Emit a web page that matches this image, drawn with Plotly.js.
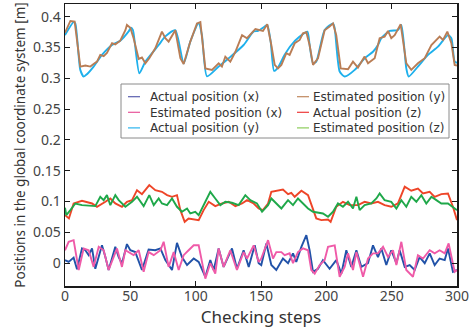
<!DOCTYPE html>
<html>
<head>
<meta charset="utf-8">
<script src="https://cdn.plot.ly/plotly-3.0.1.min.js"></script>
<style>html,body{margin:0;padding:0;background:#fff;}#chart{width:473px;height:328px;}</style>
</head>
<body>
<div id="chart"></div>
<script>
// ---- data ----
const seriesNames = ["Actual position (x)", "Estimated position (x)", "Actual position (y)",
                     "Estimated position (y)", "Actual position (z)", "Estimated position (z)"];
const xTicks = [0, 50, 100, 150, 200, 250, 300];

const stepsActualX = [0,2.8,6.6,9.2,13,15.6,18.1,20.7,23.2,28.3,30.9,33.4,38.5,41.1,43.6,47.4,50,53.8,58.9,64,69.1,73,76.8,81.9,85.7,89.5,93.4,98.5,102.3,107.4,111.2,113.8,117.6,121.4,127.8,131.6,136.7,140.6,145.2,148.2,150.2,154.1,157.9,161.7,166.8,170.7,174.5,177,180.9,184.7,187.2,189.8,193.6,197.4,202.5,207.6,211.5,215.3,219.1,223,226.8,231.9,235.7,239.5,242.1,245.9,249.7,253.6,256.1,260,263.8,267.6,271.4,275.3,279.1,282.9,286.7,290.6,293.1,296.9,300];
const actualX = [0.005,0.002,0.009,-0.01,0.024,0.021,0.013,0.024,-0.009,0.029,0.010,-0.011,0.0266,0.010,-0.0005,0.031,0.021,0.018,-0.011,0.022,0.021,0.024,0.005,-0.011,0.033,0.010,-0.003,0.0077,0.002,-0.022,0.005,-0.011,0.024,-0.006,0.024,-0.009,0.021,-0.006,0.029,0,-0.003,0.032,-0.003,-0.011,0.0076,0,0.016,0.002,0.0266,0.0455,0.021,-0.014,-0.009,0.005,-0.009,0.005,-0.017,0.021,-0.006,0.021,-0.006,0,0.029,0.010,0.024,-0.003,0.021,0,0.021,-0.006,-0.003,-0.011,0.010,0,0.016,-0.003,0.0076,0.005,0.024,-0.014,-0.011];

const stepsEstX = [0,2.8,6.6,9.2,10.5,14.3,18.1,21.9,25.8,29.6,33.4,39.8,43.6,46.2,48.7,52.5,56.4,60.2,64,67.9,73,75.5,79.3,83.2,87,90.8,94.6,98.5,102.3,104.8,107.4,111.2,115,117.6,121.4,126.5,131.6,136.7,139.3,144.4,148.2,150.2,155.4,159.2,161.7,165.6,168.1,171.9,174.5,178.3,182.1,186,188.5,191.1,194.9,198.7,201.3,206.4,210.2,214,216.6,220.4,223,228.1,231.9,235.7,239.5,243.4,247.2,251,253.6,257.4,261.2,266.3,270.1,274,279.1,282.9,286.7,290.6,293.6,298.2,300];
const estX = [0.021,0.0347,0.0374,0,-0.011,0.024,0.021,-0.006,0.0266,0.021,-0.011,0.024,-0.006,0.021,0.018,0.013,0.021,-0.014,0.018,0.013,0.021,0.0347,-0.006,0.018,-0.011,0.013,0.021,0.029,0.029,0.002,-0.025,0,-0.017,0.024,-0.006,0.021,-0.011,0.018,0.0076,0.029,0.002,0.0076,0.0374,0.0076,0.018,0.018,0.013,0.016,0,0.018,0.024,0.021,-0.011,-0.017,-0.003,0.005,0.0266,0.029,-0.022,-0.006,0.016,-0.011,0.018,-0.022,0.0076,0.016,0.016,0.0266,0.010,0.021,-0.003,0.0347,-0.011,-0.022,0.013,0.0076,0.021,0.016,0.021,0.016,0.032,-0.014,-0.011];

const stepsActualY = [0,6.6,7.9,11.7,14.3,16.8,21.9,28.3,36,42.3,48.7,50.5,52,56.9,61.5,71.7,76.8,84.4,90.8,95.9,102.3,104.8,108.7,117.6,125.3,136.7,144.4,147.7,152.8,154.8,157.4,160,163,168.1,173.2,179.6,185.5,187.2,189.8,192.3,198.7,205.1,206.4,210.2,214,221.7,229.3,235.7,239.5,242.1,248.5,254.8,257.4,261.2,263,270.1,277.8,285.5,293.1,295.7,298.2,300];
const actualY = [0.370,0.391,0.389,0.3136,0.3028,0.3066,0.319,0.338,0.354,0.361,0.376,0.382,0.378,0.308,0.327,0.354,0.368,0.378,0.324,0.3595,0.389,0.370,0.303,0.319,0.3325,0.354,0.376,0.3768,0.384,0.3865,0.3595,0.312,0.3174,0.338,0.354,0.3676,0.3757,0.354,0.3244,0.327,0.3784,0.389,0.381,0.311,0.3028,0.3136,0.3325,0.343,0.354,0.365,0.3768,0.3784,0.3865,0.316,0.3028,0.319,0.338,0.3514,0.370,0.365,0.327,0.325];

const stepsEstY = [0,4.1,7.4,11.7,15.6,19.4,21.9,24.5,27.0,29.6,32.1,36,38.5,42.3,46.2,47.4,50,52.5,56.4,58.9,61.5,64.5,69.1,74.2,76.8,79.3,84.4,88.3,90.8,95.9,101,103.6,107.4,112.5,117.6,120.1,122.7,126.5,130.4,135.5,139.3,145.7,151.5,154.8,157.9,160.5,163,165.6,169.4,171.9,175.8,179.6,182.1,184.7,187.2,189.8,193.6,198.7,202.5,205.1,207.6,211,216.6,220.4,224.2,229.3,231.9,237,240.8,244.6,247.2,249.7,252.3,256.9,261.2,265,270.1,275.3,280.4,284.2,286.7,289.3,292.6,295.7,298.2,300];
const estY = [0.374,0.393,0.392,0.319,0.3206,0.319,0.323,0.327,0.338,0.336,0.341,0.357,0.355,0.361,0.378,0.3865,0.382,0.365,0.3314,0.3336,0.3244,0.3325,0.3487,0.3757,0.365,0.3595,0.378,0.3325,0.323,0.3595,0.389,0.391,0.316,0.3136,0.3244,0.319,0.335,0.327,0.343,0.370,0.365,0.380,0.3768,0.3876,0.354,0.3217,0.316,0.3217,0.3406,0.338,0.3568,0.3622,0.373,0.3746,0.354,0.3217,0.3325,0.378,0.3838,0.389,0.370,0.316,0.3147,0.327,0.3174,0.3352,0.3244,0.3325,0.365,0.3676,0.3768,0.365,0.370,0.3876,0.3244,0.3136,0.3244,0.3325,0.354,0.3622,0.3676,0.3622,0.3757,0.357,0.3217,0.3206];

const stepsActualZ = [0,3,6.6,13,20.7,24.5,30.9,34.7,38.5,43.6,47.4,51.3,55.1,58.9,64.5,69.1,74.2,78.1,81.9,85.7,88.3,91.6,94.6,98.5,102.3,106.1,110,115,120.1,125.3,130.4,135.5,139.3,144.4,148.2,151.5,155.4,157.9,161.7,166.8,170.7,173.2,175.8,180.9,186,189.8,192.3,196.2,201.3,203.3,207.6,212.7,217.9,224.2,229.3,234.4,239.5,244.6,249.7,254.8,260,265,270.1,274,279.1,282.9,288,293.1,296.9,300];
const actualZ = [0.078,0.0726,0.0969,0.1012,0.0969,0.0915,0.0996,0.105,0.0969,0.0915,0.0996,0.1023,0.1185,0.112,0.1267,0.1185,0.1158,0.1104,0.1077,0.1104,0.0861,0.0671,0.0726,0.0709,0.0699,0.0861,0.0996,0.0926,0.0969,0.0996,0.0926,0.0969,0.1023,0.0969,0.0888,0.0861,0.0969,0.1158,0.1175,0.1196,0.112,0.1142,0.1077,0.1175,0.1104,0.0861,0.0726,0.0699,0.0709,0.0671,0.0915,0.0996,0.0942,0.0942,0.0996,0.0969,0.0996,0.0942,0.0915,0.0969,0.124,0.1175,0.1212,0.1131,0.1158,0.1077,0.112,0.1131,0.0915,0.0699];

const stepsEstZ = [0,1,4.1,7.9,13,23.2,27,29.6,32.1,34.7,38.5,41.1,46.2,51.3,55.1,60.2,64.5,67.9,71.7,74.2,78.1,81.9,85.7,89.5,93.4,95.9,99.7,102.3,107.4,111.2,115,118.9,122.7,127.8,132.9,138,141.8,146.9,150.8,155.4,157.9,161.7,165.6,170.7,174.5,178.3,182.1,186,189.8,193.6,197.4,201.3,205.1,208.9,212.7,216.6,220.4,223,225.5,229.3,234.4,238.3,240.8,244.6,249.7,253.6,257.4,261.2,265,268.9,272.7,276.5,280.4,284.2,288,293.1,296.9,300];
const estZ = [0.09,0.078,0.086,0.0969,0.0942,0.0926,0.1077,0.1023,0.1104,0.0942,0.1104,0.1023,0.0915,0.0996,0.1077,0.0926,0.1104,0.0942,0.105,0.0969,0.0942,0.105,0.0915,0.0834,0.0888,0.0807,0.0834,0.078,0.0996,0.1158,0.105,0.0942,0.0996,0.098,0.0942,0.1104,0.1023,0.0969,0.0834,0.0942,0.105,0.0969,0.0888,0.1023,0.0942,0.105,0.0969,0.0888,0.0834,0.0818,0.0807,0.0753,0.0834,0.0969,0.0915,0.0996,0.0888,0.1077,0.0861,0.0942,0.0969,0.105,0.1131,0.1023,0.0996,0.0888,0.1023,0.0915,0.1077,0.0996,0.1104,0.0969,0.1077,0.1023,0.0969,0.0969,0.0915,0.0861];

// ---- styles ----
const colors = ["#2152a8", "#ef5aa8", "#1eb0ec", "#b97d55", "#ee4528", "#1fa84a"];
const legendColors = ["#5b5fae", "#e8559a", "#2ab4ee", "#c0885e", "#ee3a3a", "#8ccc5a"];
const lineShapes = ["linear", "linear", "spline", "linear", "linear", "linear"];
const FONT = "Noto Sans, DejaVu Sans, sans-serif";
const LEGEND_FONT = "DejaVu Sans, sans-serif";

const xs = [stepsActualX, stepsEstX, stepsActualY, stepsEstY, stepsActualZ, stepsEstZ];
const ys = [actualX, estX, actualY, estY, actualZ, estZ];

const traces = seriesNames.map((n, i) => ({
  type: "scatter", mode: "lines", name: n,
  x: xs[i], y: ys[i],
  line: {color: colors[i], width: 1.9, shape: lineShapes[i], smoothing: 0.6},
  showlegend: false, hoverinfo: "skip"
}));

// manual legend box (2 columns x 3 rows, column-major)
const plotL = 65, plotT = 4, plotW = 392, plotH = 282;
const px2x = p => (p - plotL) / plotW;
const px2y = p => (plotT + plotH - p) / plotH;
const legendFontSize = 12;
const rowStep = legendFontSize * 1.3;
const rowMid = 112.3;
const rowY = [rowMid - rowStep, rowMid, rowMid + rowStep];
const colLine = [[128, 140], [297, 309]];
const colText = [148, 311];

const shapes = [{
  type: "rect", xref: "paper", yref: "paper",
  x0: px2x(121), x1: px2x(449), y0: px2y(138), y1: px2y(84),
  line: {color: "#8a8a8a", width: 1}, fillcolor: "rgba(255,255,255,1)", layer: "above"
}];
seriesNames.forEach((n, i) => {
  const c = Math.floor(i / 3), r = i % 3;
  shapes.push({
    type: "line", xref: "paper", yref: "paper",
    x0: px2x(colLine[c][0]), x1: px2x(colLine[c][1]), y0: px2y(rowY[r]), y1: px2y(rowY[r]),
    line: {color: legendColors[i], width: 1.2}, layer: "above"
  });
});
const annotations = [0, 1].map(c => ({
  xref: "paper", yref: "paper", x: px2x(colText[c]), y: px2y(rowMid),
  xanchor: "left", yanchor: "middle", align: "left", showarrow: false,
  text: seriesNames.slice(c * 3, c * 3 + 3).join("<br>"),
  font: {family: LEGEND_FONT, size: legendFontSize, color: "#333"}
}));

const axisCommon = {
  showgrid: false, zeroline: false, showline: true, mirror: "ticks",
  linecolor: "#1a1a1a", linewidth: 1.5,
  ticks: "inside", ticklen: 5, tickwidth: 1, tickcolor: "#1a1a1a",
  tickfont: {family: FONT, size: 14, color: "#444"}
};

const layout = {
  width: 473, height: 328,
  margin: {l: plotL, r: 473 - plotL - plotW, t: plotT, b: 328 - plotT - plotH},
  paper_bgcolor: "#fff", plot_bgcolor: "#fff",
  showlegend: false,
  xaxis: Object.assign({}, axisCommon, {
    range: [0, 300], tickvals: xTicks, ticklabelstandoff: -3,
    title: {text: "Checking steps", font: {family: FONT, size: 17, color: "#333"}, standoff: 3}
  }),
  yaxis: Object.assign({}, axisCommon, {
    range: [-0.037, 0.4205], dtick: 0.05, tick0: 0,
    title: {text: "Positions in the global coordinate system [m]", font: {family: FONT, size: 13.5, color: "#333"}, standoff: 4}
  }),
  shapes: shapes,
  annotations: annotations
};

Plotly.newPlot("chart", traces, layout, {staticPlot: true, displayModeBar: false});
</script>
</body>
</html>
